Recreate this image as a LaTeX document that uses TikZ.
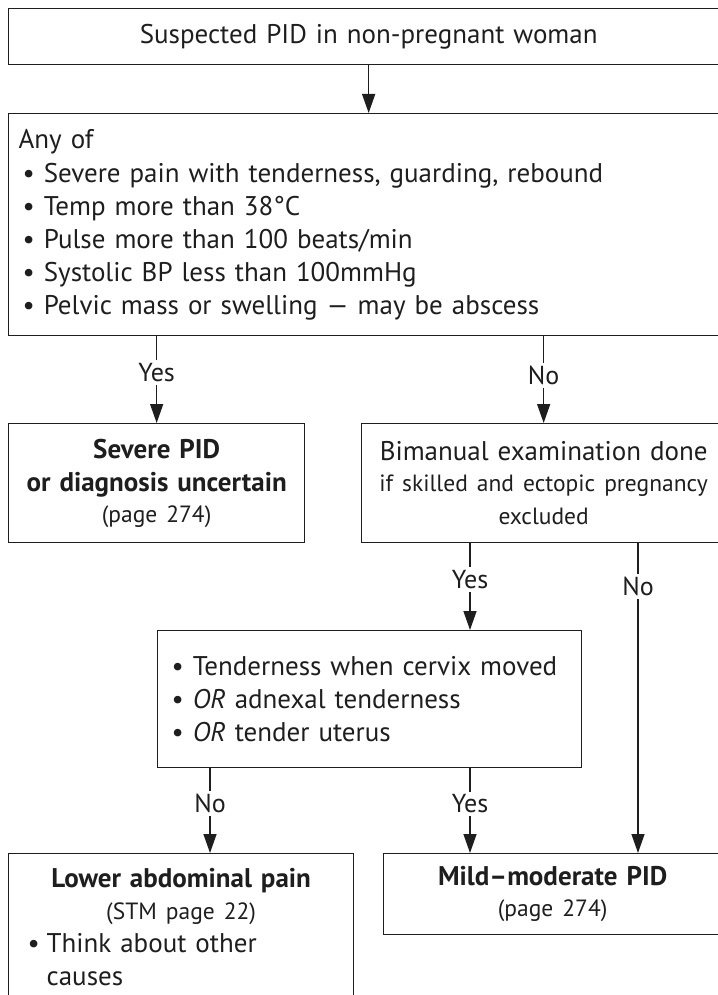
\documentclass[tikz,border=0pt]{standalone}
\usepackage{fontspec}
\setmainfont{PT Sans}
\usetikzlibrary{arrows.meta}
\definecolor{ink}{HTML}{1E1E1E}
\newcommand{\smalltext}{\fontsize{23.5}{30}\selectfont}

\begin{document}
\begin{tikzpicture}[x=1pt,y=-1pt,
  box/.style={draw=ink, line width=1.3pt, anchor=north west, inner ysep=0pt,
    text=ink, font=\fontsize{27}{33}\selectfont},
  arr/.style={draw=ink, line width=1.4pt, -{Triangle[length=19pt,width=13pt]}},
  lab/.style={fill=white, text=ink, inner sep=3pt, font=\fontsize{26}{30}\selectfont}]
\useasboundingbox (0,0) rectangle (717,995);

% boxes
\node[box, inner xsep=0pt, text width=720pt, minimum height=56pt, align=center] (start) at (8,8)
  {Suspected PID in non-pregnant woman};
\node[box, inner xsep=10pt, text width=700pt, minimum height=222pt, align=left] (anyof) at (8,113)
  {Any of\\[1pt]
   \hspace*{4pt}• Severe pain with tenderness, guarding, rebound\\
   \hspace*{4pt}• Temp more than 38°C\\
   \hspace*{4pt}• Pulse more than 100 beats/min\\
   \hspace*{4pt}• Systolic BP less than 100mmHg\\
   \hspace*{4pt}• Pelvic mass or swelling — may be abscess};
\node[box, inner xsep=0pt, text width=296pt, minimum height=119pt, align=center] (severe) at (8,423)
  {\textbf{Severe PID}\\ \textbf{or diagnosis uncertain}\\[-2pt]
   {\smalltext (page 274)}};
\node[box, inner xsep=0pt, text width=364pt, minimum height=119pt, align=center] (biman) at (361,423)
  {Bimanual examination done\\[1pt]
   {\smalltext if skilled and ectopic pregnancy\\ excluded}};
\node[box, inner xsep=14pt, text width=396pt, minimum height=137pt, align=left] (tender) at (157,630)
  {• Tenderness when cervix moved\\
   • \textit{OR} adnexal tenderness\\
   • \textit{OR} tender uterus};
\node[box, inner xsep=11pt, text width=323pt, minimum height=147pt, align=center] (lower) at (8,853)
  {\textbf{Lower abdominal pain}\\[-1pt]
   {\smalltext (STM page 22)}\par
   \raggedright\hangindent=27pt\hangafter=1
   \makebox[27pt][l]{\hspace*{8pt}•}Think about other\newline causes\par};
\node[box, inner xsep=0pt, text width=338pt, minimum height=81pt, align=center] (mild) at (383,853)
  {\textbf{Mild–moderate PID}\\[-2pt]
   {\smalltext (page 274)}};

% branch positions
\coordinate (xa) at (470,0);
\coordinate (xb) at (638,0);
\coordinate (xc) at (210,0);

% connectors
\draw[arr] (start.south) -- (anyof.north -| start.south);
\draw[arr] (anyof.south -| severe.north) -- node[lab, pos=0.42] {Yes} (severe.north);
\draw[arr] (anyof.south -| biman.north) -- node[lab, pos=0.45] {No} (biman.north);
\draw[arr] (biman.south -| xa) -- node[lab, pos=0.42] {Yes} (tender.north -| xa);
\draw[arr] (biman.south -| xb) -- node[lab, pos=0.14] {No} (mild.north -| xb);
\draw[arr] (tender.south -| xc) -- node[lab, pos=0.42] {No} (lower.north -| xc);
\draw[arr] (tender.south -| xa) -- node[lab, pos=0.42] {Yes} (mild.north -| xa);
\end{tikzpicture}
\end{document}
